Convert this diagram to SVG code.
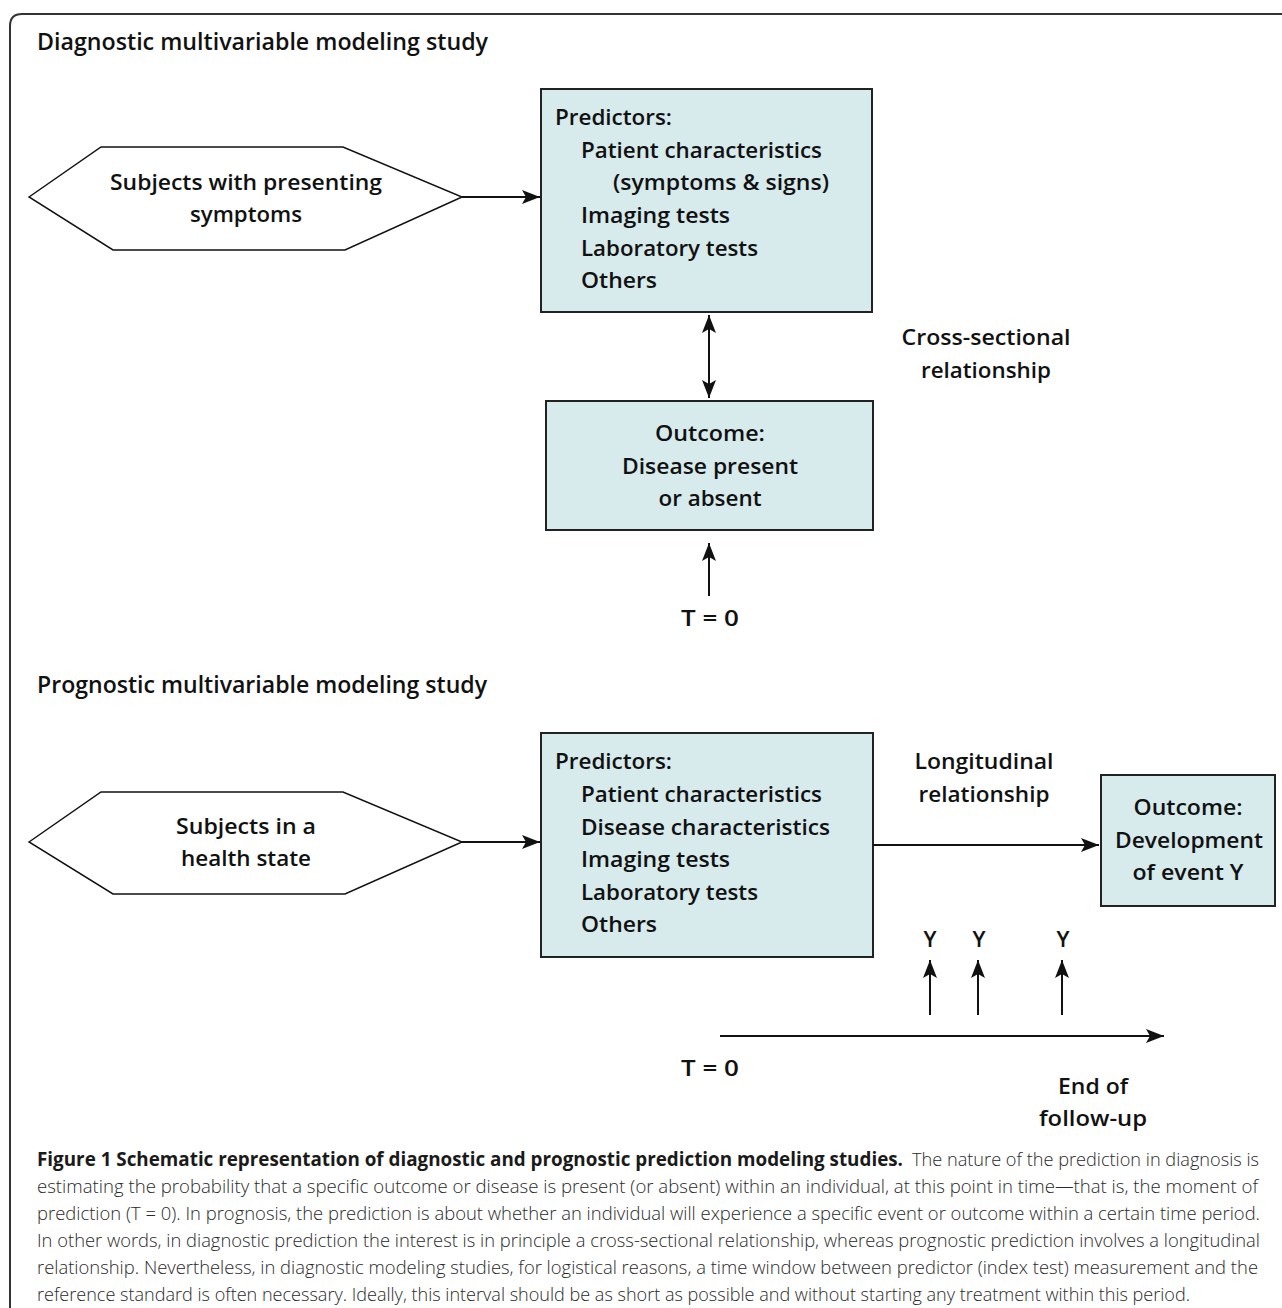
<svg xmlns="http://www.w3.org/2000/svg" width="1282" height="1308" viewBox="0 0 1282 1308">
<style>
.t{font-family:"Open Sans","Liberation Sans",sans-serif;font-weight:600;font-size:22px;fill:#111}
.h{font-family:"Open Sans","Liberation Sans",sans-serif;font-weight:600;font-size:23px;fill:#111}
.c{font-family:"Open Sans","Liberation Sans",sans-serif;font-weight:300;font-size:19px;fill:#2a2a2a}
.cb{font-weight:700;fill:#1a1a1a}
.m{text-anchor:middle}
.box{fill:#d7eaec;stroke:#222;stroke-width:2}
.hex{fill:#fff;stroke:#111;stroke-width:1.5}
.ln{stroke:#111;stroke-width:2;fill:none}
</style>
<defs>
<marker id="ah" viewBox="0 0 18 14" refX="18" refY="7" markerWidth="18" markerHeight="14" markerUnits="userSpaceOnUse" orient="auto-start-reverse">
<path d="M0,0 L18,7 L0,14 L4,7 z" fill="#111"/>
</marker>
</defs>
<rect width="1282" height="1308" fill="#fff"/>
<path d="M10,1308 L10,26 Q10,14 22,14 L1282,14" fill="none" stroke="#333" stroke-width="2"/>
<text class="h" x="37" y="50" textLength="451" lengthAdjust="spacingAndGlyphs">Diagnostic multivariable modeling study</text>
<text class="h" x="37" y="693" textLength="450" lengthAdjust="spacingAndGlyphs">Prognostic multivariable modeling study</text>

<g id="hex1">
<polygon class="hex" points="29,197 101,147 343,147 462,197 345,250 113,250"/>
<text class="t m" x="246" y="190" textLength="272" lengthAdjust="spacingAndGlyphs">Subjects with presenting</text>
<text class="t m" x="246" y="222" textLength="112" lengthAdjust="spacingAndGlyphs">symptoms</text>
</g>
<g id="pred1">
<rect class="box" x="541" y="89" width="331" height="223"/>
<text class="t" x="555" y="125" textLength="117" lengthAdjust="spacingAndGlyphs">Predictors:</text>
<text class="t" x="581" y="158" textLength="241" lengthAdjust="spacingAndGlyphs">Patient characteristics</text>
<text class="t" x="613" y="190" textLength="216" lengthAdjust="spacingAndGlyphs">(symptoms &amp; signs)</text>
<text class="t" x="581" y="223" textLength="149" lengthAdjust="spacingAndGlyphs">Imaging tests</text>
<text class="t" x="581" y="256" textLength="177" lengthAdjust="spacingAndGlyphs">Laboratory tests</text>
<text class="t" x="581" y="288" textLength="76" lengthAdjust="spacingAndGlyphs">Others</text>
</g>
<g id="cross">
<text class="t m" x="986" y="345" textLength="169" lengthAdjust="spacingAndGlyphs">Cross-sectional</text>
<text class="t m" x="986" y="378" textLength="130" lengthAdjust="spacingAndGlyphs">relationship</text>
</g>
<g id="out1">
<rect class="box" x="546" y="401" width="327" height="129"/>
<text class="t m" x="710" y="441" textLength="110" lengthAdjust="spacingAndGlyphs">Outcome:</text>
<text class="t m" x="710" y="474" textLength="176" lengthAdjust="spacingAndGlyphs">Disease present</text>
<text class="t m" x="710" y="506" textLength="103" lengthAdjust="spacingAndGlyphs">or absent</text>
</g>
<g id="t0a"><text class="t m" x="710" y="626" textLength="58" lengthAdjust="spacingAndGlyphs">T = 0</text></g>

<g id="hex2">
<polygon class="hex" points="29,842 101,792 343,792 462,842 345,894 113,894"/>
<text class="t m" x="246" y="834" textLength="140" lengthAdjust="spacingAndGlyphs">Subjects in a</text>
<text class="t m" x="246" y="866" textLength="130" lengthAdjust="spacingAndGlyphs">health state</text>
</g>
<g id="pred2">
<rect class="box" x="541" y="733" width="332" height="224"/>
<text class="t" x="555" y="769" textLength="117" lengthAdjust="spacingAndGlyphs">Predictors:</text>
<text class="t" x="581" y="802" textLength="241" lengthAdjust="spacingAndGlyphs">Patient characteristics</text>
<text class="t" x="581" y="835" textLength="249" lengthAdjust="spacingAndGlyphs">Disease characteristics</text>
<text class="t" x="581" y="867" textLength="149" lengthAdjust="spacingAndGlyphs">Imaging tests</text>
<text class="t" x="581" y="900" textLength="177" lengthAdjust="spacingAndGlyphs">Laboratory tests</text>
<text class="t" x="581" y="932" textLength="76" lengthAdjust="spacingAndGlyphs">Others</text>
</g>
<g id="longi">
<text class="t m" x="984" y="769" textLength="139" lengthAdjust="spacingAndGlyphs">Longitudinal</text>
<text class="t m" x="984" y="802" textLength="131" lengthAdjust="spacingAndGlyphs">relationship</text>
</g>
<g id="out2">
<rect class="box" x="1101" y="775" width="174" height="131"/>
<text class="t m" x="1188" y="815" textLength="109" lengthAdjust="spacingAndGlyphs">Outcome:</text>
<text class="t m" x="1189" y="848" textLength="148" lengthAdjust="spacingAndGlyphs">Development</text>
<text class="t m" x="1188" y="880" textLength="111" lengthAdjust="spacingAndGlyphs">of event Y</text>
</g>
<g id="ylabels">
<text class="t m" x="930" y="947">Y</text>
<text class="t m" x="979" y="947">Y</text>
<text class="t m" x="1063" y="947">Y</text>
</g>
<g id="t0b"><text class="t m" x="710" y="1076" textLength="58" lengthAdjust="spacingAndGlyphs">T = 0</text></g>
<g id="endfu">
<text class="t m" x="1093" y="1094" textLength="70" lengthAdjust="spacingAndGlyphs">End of</text>
<text class="t m" x="1093" y="1126" textLength="108" lengthAdjust="spacingAndGlyphs">follow-up</text>
</g>

<g id="connectors">
<line class="ln" x1="462" y1="197" x2="540" y2="197" marker-end="url(#ah)"/>
<line class="ln" x1="709" y1="315" x2="709" y2="398" marker-start="url(#ah)" marker-end="url(#ah)"/>
<line class="ln" x1="709" y1="596" x2="709" y2="543" marker-end="url(#ah)"/>
<line class="ln" x1="462" y1="842" x2="540" y2="842" marker-end="url(#ah)"/>
<line class="ln" x1="873" y1="845" x2="1099" y2="845" marker-end="url(#ah)"/>
<line class="ln" x1="930" y1="1015" x2="930" y2="960" marker-end="url(#ah)"/>
<line class="ln" x1="978" y1="1015" x2="978" y2="960" marker-end="url(#ah)"/>
<line class="ln" x1="1062" y1="1015" x2="1062" y2="960" marker-end="url(#ah)"/>
<line class="ln" x1="720" y1="1036" x2="1164" y2="1036" marker-end="url(#ah)"/>
</g>

<g id="caption">
<text class="c" x="37" y="1166"><tspan class="cb" textLength="866" lengthAdjust="spacingAndGlyphs">Figure 1 Schematic representation of diagnostic and prognostic prediction modeling studies.</tspan><tspan x="912" textLength="347" lengthAdjust="spacingAndGlyphs">The nature of the prediction in diagnosis is</tspan></text>
<text class="c" x="37" y="1193" textLength="1221" lengthAdjust="spacingAndGlyphs">estimating the probability that a specific outcome or disease is present (or absent) within an individual, at this point in time—that is, the moment of</text>
<text class="c" x="37" y="1220" textLength="1223" lengthAdjust="spacingAndGlyphs">prediction (T = 0). In prognosis, the prediction is about whether an individual will experience a specific event or outcome within a certain time period.</text>
<text class="c" x="37" y="1247" textLength="1223" lengthAdjust="spacingAndGlyphs">In other words, in diagnostic prediction the interest is in principle a cross-sectional relationship, whereas prognostic prediction involves a longitudinal</text>
<text class="c" x="37" y="1274" textLength="1221" lengthAdjust="spacingAndGlyphs">relationship. Nevertheless, in diagnostic modeling studies, for logistical reasons, a time window between predictor (index test) measurement and the</text>
<text class="c" x="37" y="1301" textLength="1153" lengthAdjust="spacingAndGlyphs">reference standard is often necessary. Ideally, this interval should be as short as possible and without starting any treatment within this period.</text>
</g>
</svg>
